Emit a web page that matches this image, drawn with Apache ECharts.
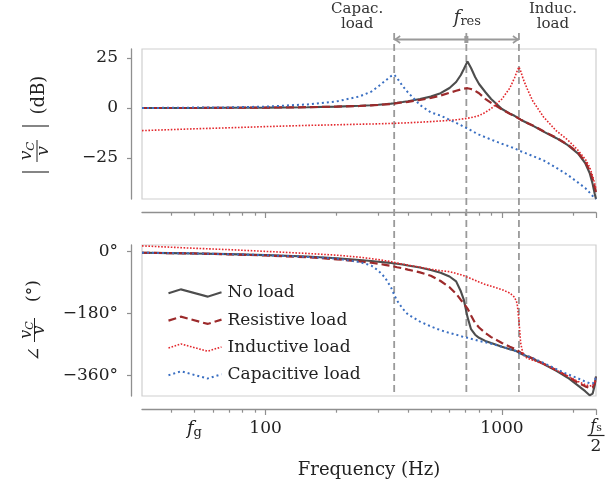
<!DOCTYPE html>
<html><head><meta charset="utf-8">
<script src="https://cdn.jsdelivr.net/npm/echarts@6/dist/echarts.min.js"></script>
<style>html,body{margin:0;padding:0;background:#fff}#c{width:616px;height:488px}</style>
</head><body><div id="c"></div>
<script>
// ---- data ----
const freqHz = [30, 40, 50, 70, 100, 150, 200, 250, 280, 300, 320, 340, 350, 360, 380, 400, 450, 500, 550, 600, 640, 670, 690, 715, 740, 770, 800, 850, 900, 1000, 1080, 1130, 1160, 1180, 1200, 1230, 1280, 1350, 1500, 1700, 1900, 2100, 2250, 2350, 2420, 2470, 2500];
const magNoLoad = [0.0, 0.0, 0.0, 0.1, 0.2, 0.4, 0.7, 1.1, 1.4, 1.6, 1.9, 2.2, 2.4, 2.6, 3.0, 3.4, 4.5, 5.7, 7.4, 10.0, 13.0, 16.5, 19.5, 23.3, 20.0, 15.5, 12.0, 8.0, 4.5, -0.5, -2.8, -3.9, -4.7, -5.3, -5.8, -6.5, -7.5, -8.8, -11.8, -15.1, -18.6, -22.8, -27.5, -32.5, -38.0, -43.0, -45.5];
const magResistive = [0.0, 0.0, 0.0, 0.1, 0.2, 0.4, 0.7, 1.0, 1.3, 1.5, 1.8, 2.0, 2.2, 2.4, 2.8, 3.1, 4.0, 5.0, 6.2, 7.6, 8.6, 9.3, 9.7, 9.9, 9.5, 8.6, 7.4, 4.6, 2.6, -0.8, -2.9, -4.0, -4.8, -5.3, -5.8, -6.5, -7.5, -8.7, -11.6, -14.9, -18.3, -22.4, -26.8, -31.3, -35.5, -39.5, -42.0];
const magInductive = [-11.3, -10.8, -10.4, -9.9, -9.3, -8.7, -8.4, -8.1, -8.0, -7.9, -7.8, -7.7, -7.7, -7.6, -7.5, -7.4, -7.1, -6.8, -6.5, -6.2, -5.9, -5.6, -5.4, -5.1, -4.8, -4.3, -3.8, -2.2, -0.3, 4.5, 10.0, 15.0, 18.5, 20.5, 18.5, 14.5, 9.5, 3.5, -4.5, -11.5, -16.0, -21.2, -25.5, -29.5, -34.0, -38.0, -40.5];
const magCapacitive = [0.0, 0.1, 0.2, 0.3, 0.7, 1.8, 3.3, 5.8, 8.2, 10.8, 13.5, 16.0, 16.6, 15.0, 11.0, 7.8, 1.5, -2.2, -3.8, -5.9, -7.4, -8.6, -9.4, -10.3, -11.2, -12.3, -13.3, -14.6, -15.8, -17.9, -19.3, -20.2, -20.8, -21.3, -21.6, -22.1, -22.9, -24.0, -26.2, -29.9, -33.5, -37.3, -40.0, -42.3, -44.0, -45.0, -45.5];
const phaseNoLoad = [-3, -4, -5, -7, -10, -14, -19, -24, -27, -29, -31, -33, -34, -35, -37, -40, -46, -53, -61, -72, -86, -115, -140, -190, -225, -241, -250, -259, -265, -276, -283, -287, -290, -293, -296, -299, -304, -311, -326, -346, -366, -389, -405, -417, -412, -388, -362];
const phaseResistive = [-3, -4, -5, -7.5, -11, -16, -22, -28, -32, -35, -38, -41, -43, -45, -48, -52, -60, -70, -85, -103, -122, -140, -150, -165, -185, -207, -220, -236, -248, -265, -276, -282, -286, -290, -293, -297, -303, -310, -325, -344, -362, -381, -391, -396, -394, -382, -363];
const phaseInductive = [17, 13, 10, 6, 1, -5, -10, -16, -20, -23, -26, -29, -31, -33, -36, -39, -45, -51, -55, -58, -63, -67, -70, -74, -78, -83, -88, -95, -100, -110, -120, -132, -150, -200, -265, -300, -310, -315, -326, -344, -361, -377, -386, -390, -388, -378, -363];
const phaseCapacitive = [-3, -4, -5, -7, -10, -15, -20, -30, -40, -55, -75, -105, -125, -142, -165, -182, -203, -217, -228, -236, -241, -245, -248, -250, -253, -256, -259, -263, -267, -276, -283, -287, -290, -294, -296, -299, -303, -309, -323, -341, -356, -368, -377, -382, -383, -375, -362];
const seriesNames = ['No load', 'Resistive load', 'Inductive load', 'Capacitive load'];
const magTickValues = [-25, 0, 25];
const phaseTickValues = [-360, -180, 0];
const freqLabelValues = [50, 100, 1000, 2500];
const minorTickValues = [40, 50, 60, 70, 80, 90, 200, 300, 400, 500, 600, 700, 800, 900, 2000];
const majorTickValues = [100, 1000, 2500];
const markerFreqs = [350, 707, 1180]; // capacitive load, f_res, inductive load

// ---- styles ----
const FONT = 'DejaVu Serif';
const TXT = '#222';
const AX = '#8f8f8f';
const lineStyles = [
  {color: '#4d4d4d', width: 2.1, type: 'solid'},
  {color: '#9c2a2b', width: 2.2, type: [8, 4]},
  {color: '#e3282d', width: 1.6, type: [1.6, 1.6]},
  {color: '#3a6fc2', width: 2.0, type: [2, 3]}
];

const chart = echarts.init(document.getElementById('c'), null, {renderer: 'canvas'});

function mkSeries(i, vals, xi, yi) {
  const st = lineStyles[i];
  return {
    name: seriesNames[i], type: 'line', xAxisIndex: xi, yAxisIndex: yi,
    data: freqHz.map((f, k) => [f, vals[k]]),
    symbol: 'none', showSymbol: false, smooth: false, clip: true,
    lineStyle: {color: st.color, width: st.width, type: st.type},
    itemStyle: {color: st.color}
  };
}

const minus = v => (v < 0 ? '\u2212' + Math.abs(v) : '' + v);

function xAx(gridIndex, labels, major) {
  return {
    type: 'log', logBase: 10, gridIndex: gridIndex, min: 30, max: 2500,
    position: 'bottom', offset: 13.5,
    axisLine: {show: !major, onZero: false, lineStyle: {color: AX, width: 1.3}},
    axisTick: {show: true, length: major ? 5.5 : 3.2, lineStyle: {color: AX, width: 1.2},
      customValues: major ? majorTickValues : minorTickValues},
    minorTick: {show: false}, splitLine: {show: false}, minorSplitLine: {show: false},
    axisLabel: {
      show: labels, customValues: freqLabelValues, margin: 10, color: TXT,
      fontFamily: FONT, fontSize: 17,
      formatter: function (v) {
        if (Math.abs(v - 50) < 1) return '{fi|f}{fsub|g}';
        if (Math.abs(v - 2500) < 1) return '{fi2|f}{fsub2|s}\n{bar|}\n{num|2}';
        return '{num|' + Math.round(v) + '}';
      },
      rich: {
        num: {fontFamily: FONT, fontSize: 17, color: TXT, lineHeight: 19},
        fi: {fontFamily: FONT, fontSize: 18, fontStyle: 'italic', color: TXT, lineHeight: 20},
        fsub: {fontFamily: FONT, fontSize: 13, color: TXT, lineHeight: 9, verticalAlign: 'bottom'},
        fi2: {fontFamily: FONT, fontSize: 16, fontStyle: 'italic', color: TXT, lineHeight: 14},
        fsub2: {fontFamily: FONT, fontSize: 11, color: TXT, lineHeight: 6, verticalAlign: 'bottom'},
        bar: {width: 17, height: 1.2, backgroundColor: TXT, lineHeight: 4}
      }
    },
    name: labels ? 'Frequency (Hz)' : '', nameLocation: 'middle', nameGap: 52,
    nameTextStyle: {fontFamily: FONT, fontSize: 18, color: TXT}
  };
}

function yAx(gridIndex, min, max, ticks, suffix) {
  return {
    type: 'value', gridIndex: gridIndex, min: min, max: max, offset: 11,
    axisLine: {show: true, onZero: false, lineStyle: {color: AX, width: 1.3}},
    axisTick: {show: true, length: 4, lineStyle: {color: AX, width: 1.2}, customValues: ticks},
    axisLabel: {customValues: ticks, margin: 13, color: TXT, fontFamily: FONT, fontSize: 17,
      formatter: v => minus(v) + suffix},
    splitLine: {show: false}
  };
}

const legendIcon = 'path://M0,4L12.6,0L39.3,7.3L53.3,3';

const option = {
  animation: false,
  backgroundColor: '#fff',
  grid: [
    {left: 142, right: 20, top: 49, height: 150, show: true, borderColor: '#cfcfcf', borderWidth: 1.2, backgroundColor: 'transparent'},
    {left: 142, right: 20, top: 245, height: 151, show: true, borderColor: '#cfcfcf', borderWidth: 1.2, backgroundColor: 'transparent'}
  ],
  xAxis: [xAx(0, false, false), xAx(0, false, true), xAx(1, true, false), xAx(1, false, true)],
  yAxis: [yAx(0, -45.5, 29.5, magTickValues, ''), yAx(1, -419, 19.5, phaseTickValues, '\u00b0')],
  legend: {
    orient: 'vertical', left: 161, top: 278, itemWidth: 53, itemHeight: 8, itemGap: 7.3,
    selectedMode: false,
    textStyle: {fontFamily: FONT, fontSize: 17, color: TXT, lineHeight: 20, padding: [0, 0, 0, 1]},
    data: seriesNames.map((n, i) => ({
      name: n, icon: legendIcon,
      itemStyle: {color: 'none', borderColor: lineStyles[i].color, borderWidth: lineStyles[i].width,
        borderType: lineStyles[i].type}
    }))
  },
  series: [
    mkSeries(0, magNoLoad, 0, 0), mkSeries(1, magResistive, 0, 0),
    mkSeries(2, magInductive, 0, 0), mkSeries(3, magCapacitive, 0, 0),
    mkSeries(0, phaseNoLoad, 2, 1), mkSeries(1, phaseResistive, 2, 1),
    mkSeries(2, phaseInductive, 2, 1), mkSeries(3, phaseCapacitive, 2, 1)
  ]
};
chart.setOption(option);

// ---- annotations positioned through the axis scale ----
const xs = markerFreqs.map(f => chart.convertToPixel({xAxisIndex: 2}, f));
const G = '#9a9a9a';
const gfx = [];
xs.forEach(x => gfx.push({type: 'line', silent: true, z: 1,
  shape: {x1: x, y1: 33, x2: x, y2: 396},
  style: {stroke: G, lineWidth: 1.8, lineDash: [7, 4]}}));
const ay = 39.5;
gfx.push({type: 'line', silent: true, shape: {x1: xs[0], y1: ay, x2: xs[2], y2: ay}, style: {stroke: G, lineWidth: 2}});
gfx.push({type: 'polyline', silent: true, shape: {points: [[xs[0] + 6, ay - 3.5], [xs[0] + 1, ay], [xs[0] + 6, ay + 3.5]]}, style: {stroke: G, lineWidth: 1.6, fill: null}});
gfx.push({type: 'polyline', silent: true, shape: {points: [[xs[2] - 6, ay - 3.5], [xs[2] - 1, ay], [xs[2] - 6, ay + 3.5]]}, style: {stroke: G, lineWidth: 1.6, fill: null}});
gfx.push({type: 'rect', silent: true, shape: {x: xs[1] - 2, y: ay - 3.5, width: 4, height: 7}, style: {fill: G}});
const annStyle = {fontFamily: FONT, fontSize: 15, fill: '#333', align: 'center', verticalAlign: 'middle', lineHeight: 15};
gfx.push({type: 'text', silent: true, x: xs[0] - 37, y: 17, style: Object.assign({text: 'Capac.\nload'}, annStyle)});
gfx.push({type: 'text', silent: true, x: xs[2] + 34, y: 17, style: Object.assign({text: 'Induc.\nload'}, annStyle)});
gfx.push({type: 'text', silent: true, x: xs[1] + 1, y: 18, style: {
  text: '{f|f}{s|res}', align: 'center', verticalAlign: 'middle',
  rich: {f: {fontFamily: FONT, fontSize: 18, fontStyle: 'italic', fill: '#333', lineHeight: 20},
         s: {fontFamily: FONT, fontSize: 13, fill: '#333', lineHeight: 9, verticalAlign: 'bottom'}}}});

// y-axis titles (rotated groups)
function txt(x, y, text, size, italic) {
  return {type: 'text', x: x, y: y, style: {text: text, fontFamily: FONT, fontSize: size,
    fontStyle: italic ? 'italic' : 'normal', fill: TXT, align: 'center', verticalAlign: 'middle'}};
}
function numer(x, y, size) {
  return {type: 'text', x: x, y: y, style: {text: '{v|v}{c|C}', align: 'center', verticalAlign: 'middle',
    rich: {v: {fontFamily: FONT, fontSize: size, fontStyle: 'italic', fill: TXT, lineHeight: size + 2},
           c: {fontFamily: FONT, fontSize: size * 0.7, fontStyle: 'italic', fill: TXT, lineHeight: 8, verticalAlign: 'bottom'}}}};
}
function ln(x1, y1, x2, y2, w) {
  return {type: 'line', shape: {x1: x1, y1: y1, x2: x2, y2: y2}, style: {stroke: TXT, lineWidth: w || 1}};
}
gfx.push({type: 'group', x: 38, y: 124, rotation: Math.PI / 2, silent: true, children: [
  ln(-48, -16, -48, 11, 1.1),
  numer(-27, -11, 17),
  ln(-38, -1, -16, -1, 1),
  txt(-27, 5.5, 'v', 17, true),
  ln(-2, -16, -2, 11, 1.1),
  txt(29, 1, '(dB)', 18, false)
]});
gfx.push({type: 'group', x: 35, y: 321, rotation: Math.PI / 2, silent: true, children: [
  txt(-33, 0, '\u2220', 18, false),
  numer(-9, -8, 16),
  ln(-21, -0.5, 3, -0.5, 1),
  txt(-9, 4.5, 'v', 16, true),
  txt(30, -1.5, '(\u00b0)', 17, false)
]});
chart.setOption({graphic: gfx});
</script></body></html>
